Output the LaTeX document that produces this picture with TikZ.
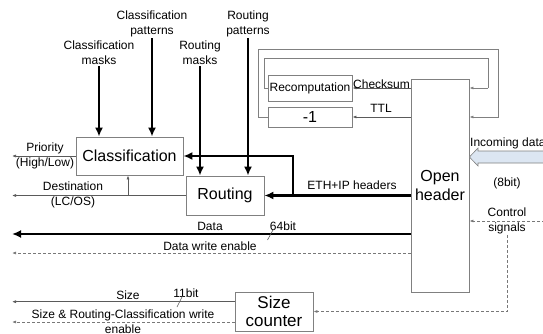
\documentclass[tikz,border=0pt]{standalone}
\usepackage{fontspec}
\setmainfont{Liberation Sans}
\usetikzlibrary{arrows.meta,calc}
\definecolor{boxgray}{RGB}{128,128,128}
\definecolor{linegray}{RGB}{90,90,90}
\definecolor{dashgray}{RGB}{120,120,120}
\definecolor{inblue}{RGB}{220,230,242}
\tikzset{
  blk/.style={draw=boxgray, line width=0.8pt, rectangle, inner sep=0pt, align=center},
  lbl/.style={inner sep=1pt, align=center, font=\fontsize{12}{15}\selectfont},
  thinarr/.style={draw=linegray, line width=0.7pt, -{Latex[length=4pt,width=3pt]}},
  loopln/.style={draw=boxgray, line width=0.8pt},
  dasharr/.style={draw=dashgray, line width=0.7pt, dash pattern=on 3pt off 2pt, -{Latex[length=4pt,width=3pt]}},
  thickarr/.style={draw=black, line width=2.4pt, -{Latex[length=9pt,width=8pt]}},
  thickln/.style={draw=black, line width=2.4pt},
  slash/.style={draw=linegray, line width=0.6pt}
}
\begin{document}
\begin{tikzpicture}[x=1pt,y=-1pt]
\useasboundingbox (0,0) rectangle (543,334);
\clip (0,0) rectangle (543,334);
% blocks
\node[blk, minimum width=107pt, minimum height=38pt, font=\fontsize{16}{19}\selectfont] (cls) at (129.5,156) {Classification};
\node[blk, minimum width=78pt, minimum height=39pt, font=\fontsize{16}{19}\selectfont] (rout) at (225,195.5) {Routing};
\node[blk, minimum width=58pt, minimum height=213pt, font=\fontsize{16}{19.5}\selectfont] (open) at (440,185.5) {Open\\header};
\node[blk, minimum width=84pt, minimum height=26pt, font=\fontsize{12}{15}\selectfont] (recomp) at (310,88) {Recomputation};
\node[blk, minimum width=84pt, minimum height=20pt, font=\fontsize{16}{19}\selectfont] (minus) at (310,117) {-1};
\node[blk, minimum width=78pt, minimum height=39pt, font=\fontsize{17}{18}\selectfont] (size) at (274,311.5) {Size\\counter};
% top labels
\node[lbl] (cmlab) at (99,53) {Classification\\masks};
\node[lbl] (cplab) at (152,24) {Classification\\patterns};
\node[lbl] (rmlab) at (200,53) {Routing\\masks};
\node[lbl] (rplab) at (248,24) {Routing\\patterns};
\draw[thickarr] (cmlab.south) -- (cmlab.south |- cls.north);
\draw[thickarr] (cplab.south) -- (cplab.south |- cls.north);
\draw[thickarr] (rmlab.south) -- (rmlab.south |- rout.north);
\draw[thickarr] (rplab.south) -- (rplab.south |- rout.north);
% loops
\coordinate (oL) at (258,49);
\coordinate (oR) at (498,117);
\coordinate (iL) at (264,58.5);
\coordinate (iR) at (488,88);
\draw[loopln] (minus.west) -| (oL) -| (oR) -- ++(-10,0);
\draw[thinarr, draw=boxgray] (oR) -- (open.east |- oR);
\draw[loopln] (recomp.west) -| (iL) -| (iR);
\draw[thinarr, draw=boxgray] (iR) -- (open.east |- iR);
\draw[thinarr] (open.west |- recomp.east) -- (recomp.east);
\draw[thinarr] (open.west |- minus.east) -- (minus.east);
\node[lbl, anchor=south west, inner sep=0pt] (cklab) at (353,89) {Checksum};
\node[lbl] (ttllab) at (381,108.5) {TTL};
% ETH + IP
\coordinate (br) at (293,195.5);
\draw[thickarr] (open.west |- rout.east) -- (rout.east);
\draw[thickarr] (br) |- (cls.east);
\node[lbl] (ethlab) at (352,185) {ETH+IP headers};
% outputs
\coordinate (lpri) at (12,156);
\coordinate (ldst) at (12,195.5);
\coordinate (ldat) at (12,234);
\coordinate (ldwe) at (12,253);
\coordinate (lsz) at (12,301.7);
\coordinate (lswe) at (12,322);
\draw[thinarr] (cls.west) -- (lpri);
\node[lbl] (prilab) at (45,155.5) {Priority\\(High/Low)};
\draw[thinarr] (rout.west) -- (ldst);
\node[lbl] (dstlab) at (73,195) {Destination\\(LC/OS)};
\coordinate (up) at (128,195.5);
\draw[thinarr] (up) -- (up |- cls.south);
\draw[thickarr] (open.west |- ldat) -- (ldat);
\node[lbl] (datlab) at (210,226.5) {Data};
\node[lbl] (b64) at (283,226) {64bit};
\draw[slash] (273.5,229) -- (267.5,240);
\draw[dasharr] (open.west |- ldwe) -- (ldwe);
\node[lbl] (dwelab) at (210,246) {Data write enable};
\draw[thinarr] (size.west |- lsz) -- (lsz);
\node[lbl] (szlab) at (128,295) {Size};
\node[lbl] (b11) at (186,293) {11bit};
\draw[slash] (182.5,296) -- (177,307);
\draw[dasharr] (size.west |- lswe) -- (lswe);
\node[lbl] (swelab) at (123,321.5) {Size \& Routing-Classification write\\enable};
% control signals
\coordinate (cR) at (545,221);
\draw[dasharr] (cR) -- (open.east |- cR);
\node[lbl] (ctllab) at (507,220.5) {Control\\signals};
\draw[dasharr] (ctllab.south) |- (size.east);
% incoming data
\draw[draw=boxgray, fill=inblue, line width=0.6pt] (open.east |- 0,157) -- (478,148) -- (478,151) -- (546,151) -- (546,163) -- (478,163) -- (478,166) -- cycle;
\node[lbl, anchor=south west, inner sep=0pt] (inlab) at (470,149) {Incoming data};
\node[lbl] (b8) at (507,183) {(8bit)};
\end{tikzpicture}
\end{document}
